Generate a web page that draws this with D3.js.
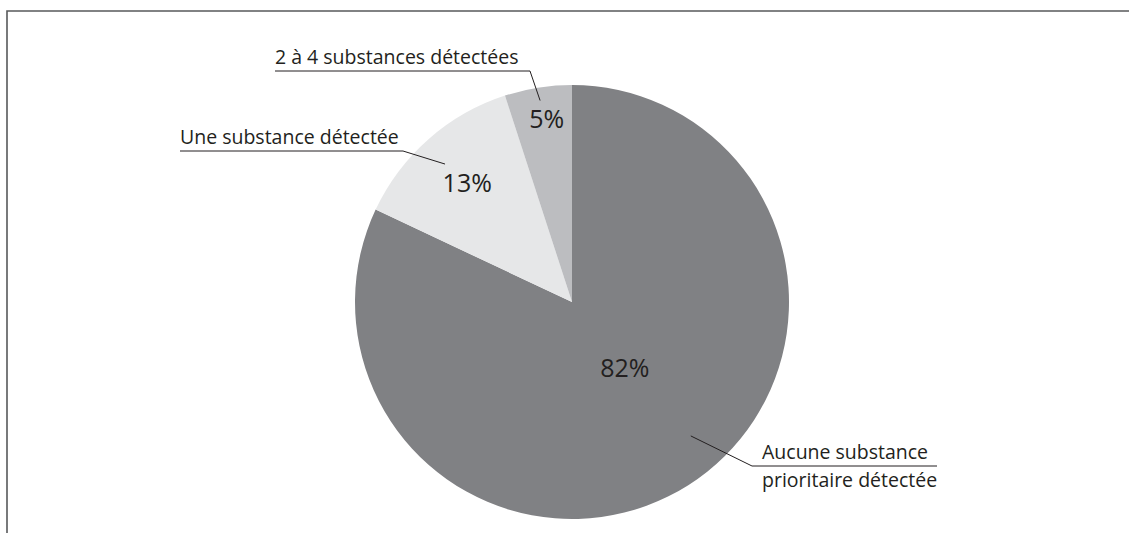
<!DOCTYPE html>
<html>
<head>
<meta charset="utf-8">
<script src="https://cdn.jsdelivr.net/npm/d3@7"></script>
<style>
  body { margin: 0; background: #fff; }
  text { font-family: "Open Sans", sans-serif; fill: #231f20; }
</style>
</head>
<body>
<svg id="chart"></svg>
<script>
// slices, clockwise from 12 o'clock
let categories = ['Aucune substance prioritaire détectée', 'Une substance détectée', '2 à 4 substances détectées'];
let values = [82, 13, 5];
let colors = ['#808184', '#e6e7e8', '#bcbdc0'];
// label lines for the callouts
let calloutLines = [['Aucune substance', 'prioritaire détectée'], ['Une substance détectée'], ['2 à 4 substances détectées']];

let width = 1129, height = 533;
let svg = d3.select('#chart').attr('width', width).attr('height', height);

// frame (top + left edges only)
svg.append('path')
    .attr('d', `M7,${height} V11 H${width}`)
    .attr('fill', 'none')
    .attr('stroke', '#58595b')
    .attr('stroke-width', 1.6);

let cx = 572, cy = 302, r = 217;
let g = svg.append('g').attr('transform', `translate(${cx},${cy})`);

let pie = d3.pie().sort(null).value(d => d)(values);
let arc = d3.arc().innerRadius(0).outerRadius(r);

g.selectAll('path.slice')
    .data(pie)
    .join('path')
    .attr('class', 'slice')
    .attr('d', arc)
    .attr('fill', (d, i) => colors[i]);

// percent labels, radius fraction and angle nudge per slice
let pctRadius = [0.39, 0.73, 0.85];
let pctNudge = [-0.11, 0, 0.02];
g.selectAll('text.pct')
    .data(pie)
    .join('text')
    .attr('class', 'pct')
    .attr('x', (d, i) => Math.sin((d.startAngle + d.endAngle) / 2 + pctNudge[i]) * r * pctRadius[i])
    .attr('y', (d, i) => -Math.cos((d.startAngle + d.endAngle) / 2 + pctNudge[i]) * r * pctRadius[i])
    .attr('dy', '0.35em')
    .attr('text-anchor', 'middle')
    .style('font-size', '25px')
    .text(d => d.value + '%');

// callouts: leader point inside the slice, then underline under the text
let leaderRadius = [0.825, 0.864, 0.94];
let leaderAngle = [2.416, -0.744, -0.157];
let textX = [762, 180, 275];
let underlineY = [466, 151, 71];
let underlineLen = [175, 223, 255];

pie.forEach((d, i) => {
    let px = cx + Math.sin(leaderAngle[i]) * r * leaderRadius[i];
    let py = cy - Math.cos(leaderAngle[i]) * r * leaderRadius[i];
    let leftSide = textX[i] < cx;
    let x0 = leftSide ? textX[i] : textX[i] - 10;
    let x1 = textX[i] + underlineLen[i];
    let joinX = leftSide ? x1 : x0;
    svg.append('path')
        .attr('d', `M${x0},${underlineY[i]} H${x1} M${joinX},${underlineY[i]} L${px},${py}`)
        .attr('fill', 'none')
        .attr('stroke', '#231f20')
        .attr('stroke-width', 1);
    let t = svg.append('text')
        .attr('x', textX[i])
        .attr('y', underlineY[i] - 7)
        .style('font-size', '19.5px');
    calloutLines[i].forEach((line, j) => {
        t.append('tspan')
            .attr('x', textX[i])
            .attr('dy', j === 0 ? 0 : 28)
            .text(line);
    });
});
</script>
</body>
</html>
